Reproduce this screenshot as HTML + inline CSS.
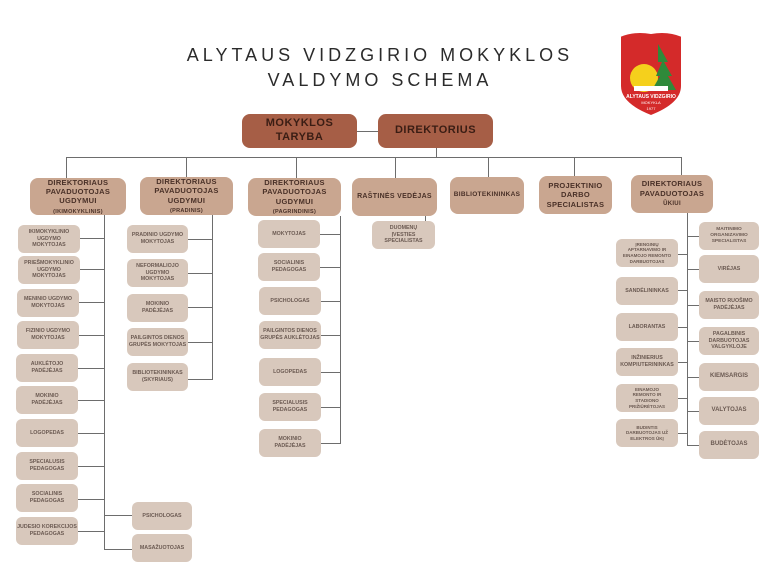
<!DOCTYPE html>
<html><head><meta charset="utf-8"><style>
body{margin:0;width:768px;height:576px;background:#fff;position:relative;overflow:hidden;font-family:"Liberation Sans",sans-serif}
div{position:absolute;box-sizing:border-box}
p{margin:0}
.t{left:0;width:768px;text-align:center;font-size:18px;letter-spacing:4px;color:#2b2b2b;padding-right:8px}
.b{display:flex;align-items:center;justify-content:center;text-align:center;font-weight:bold;line-height:1.25}
.d{background:#a65e46;color:#3a1d14;border-radius:8px;font-size:11px;letter-spacing:.5px}
.m{background:#c9a690;color:#4a3128;border-radius:8px;font-size:7.5px;letter-spacing:.3px}
.s{background:#d8c8bc;color:#6b5a52;border-radius:6px;font-size:5.3px;width:62px;height:28px}
.h{height:1px;background:#6d6d6d}
.v{width:1px;background:#6d6d6d}
</style></head><body>
<div class="t" style="top:45px">ALYTAUS VIDZGIRIO MOKYKLOS</div>
<div class="t" style="top:70px">VALDYMO SCHEMA</div>
<svg style="position:absolute;left:616px;top:30px" width="70" height="88" viewBox="0 0 70 88">
<path d="M4 6 Q18 0 35 3 Q52 0 66 6 L66 56 Q66 74 35 86 Q4 74 4 56Z" fill="#d42a2a" stroke="#fff" stroke-width="2"/>
<circle cx="28" cy="48" r="14" fill="#f5d01c"/>
<path d="M42 14 L52 32 L48 32 L56 46 L52 46 L60 60 L36 60 L44 46 L40 46 L46 32 L42 32Z" fill="#2f8a3a"/>
<rect x="18" y="56" width="34" height="5" fill="#fff"/>
<text x="35" y="68" font-size="5" fill="#fff" text-anchor="middle" font-family="Liberation Sans" font-weight="bold">ALYTAUS VIDZGIRIO</text>
<text x="35" y="74" font-size="4" fill="#fff" text-anchor="middle" font-family="Liberation Sans">MOKYKLA</text>
<text x="35" y="80" font-size="4" fill="#fff" text-anchor="middle" font-family="Liberation Sans">1977</text>
</svg>

<div class="b d" style="left:242px;top:114px;width:115px;height:34px"><p>MOKYKLOS<br>TARYBA</p></div>
<div class="b d" style="left:378px;top:114px;width:115px;height:34px">DIREKTORIUS</div>
<div class="h" style="left:357px;top:131px;width:21px"></div>
<div class="v" style="left:436px;top:148px;height:9px"></div>
<div class="h" style="left:66px;top:157px;width:616px"></div>
<div class="v" style="left:66px;top:157px;height:21px"></div>
<div class="v" style="left:186px;top:157px;height:20px"></div>
<div class="v" style="left:296px;top:157px;height:21px"></div>
<div class="v" style="left:395px;top:157px;height:21px"></div>
<div class="v" style="left:488px;top:157px;height:20px"></div>
<div class="v" style="left:574px;top:157px;height:19px"></div>
<div class="v" style="left:681px;top:157px;height:18px"></div>

<div class="b m" style="left:30px;top:178px;width:96px;height:37px"><p>DIREKTORIAUS<br>PAVADUOTOJAS<br>UGDYMUI<br><span style="font-size:5.5px">(IKIMOKYKLINIS)</span></p></div>
<div class="b m" style="left:140px;top:177px;width:93px;height:38px"><p>DIREKTORIAUS<br>PAVADUOTOJAS<br>UGDYMUI<br><span style="font-size:5.5px">(PRADINIS)</span></p></div>
<div class="b m" style="left:248px;top:178px;width:93px;height:38px"><p>DIREKTORIAUS<br>PAVADUOTOJAS<br>UGDYMUI<br><span style="font-size:5.5px">(PAGRINDINIS)</span></p></div>
<div class="b m" style="left:352px;top:178px;width:85px;height:38px;font-size:7px">RAŠTINĖS VEDĖJAS</div>
<div class="b m" style="left:450px;top:177px;width:74px;height:37px;font-size:6.5px">BIBLIOTEKININKAS</div>
<div class="b m" style="left:539px;top:176px;width:73px;height:38px"><p>PROJEKTINIO<br>DARBO<br>SPECIALISTAS</p></div>
<div class="b m" style="left:631px;top:175px;width:82px;height:38px"><p>DIREKTORIAUS<br>PAVADUOTOJAS<br><span style="font-size:6px">ŪKIUI</span></p></div>

<!-- col1 -->
<div class="v" style="left:104px;top:215px;height:335px"></div>
<div class="b s" style="left:18px;top:225px"><p>IKIMOKYKLINIO<br>UGDYMO<br>MOKYTOJAS</p></div><div class="h" style="left:80px;top:238px;width:24px"></div>
<div class="b s" style="left:18px;top:256px"><p>PRIEŠMOKYKLINIO<br>UGDYMO<br>MOKYTOJAS</p></div><div class="h" style="left:80px;top:269px;width:24px"></div>
<div class="b s" style="left:17px;top:289px"><p>MENINIO UGDYMO<br>MOKYTOJAS</p></div><div class="h" style="left:79px;top:302px;width:25px"></div>
<div class="b s" style="left:17px;top:321px"><p>FIZINIO UGDYMO<br>MOKYTOJAS</p></div><div class="h" style="left:79px;top:335px;width:25px"></div>
<div class="b s" style="left:16px;top:354px"><p>AUKLĖTOJO<br>PADĖJĖJAS</p></div><div class="h" style="left:78px;top:368px;width:26px"></div>
<div class="b s" style="left:16px;top:386px"><p>MOKINIO<br>PADĖJĖJAS</p></div><div class="h" style="left:78px;top:400px;width:26px"></div>
<div class="b s" style="left:16px;top:419px">LOGOPEDAS</div><div class="h" style="left:78px;top:433px;width:26px"></div>
<div class="b s" style="left:16px;top:452px"><p>SPECIALUSIS<br>PEDAGOGAS</p></div><div class="h" style="left:78px;top:466px;width:26px"></div>
<div class="b s" style="left:16px;top:484px"><p>SOCIALINIS<br>PEDAGOGAS</p></div><div class="h" style="left:78px;top:499px;width:26px"></div>
<div class="b s" style="left:16px;top:517px"><p>JUDESIO KOREKCIJOS<br>PEDAGOGAS</p></div><div class="h" style="left:78px;top:531px;width:26px"></div>
<div class="b s" style="left:132px;top:502px;width:60px">PSICHOLOGAS</div><div class="h" style="left:104px;top:515px;width:28px"></div>
<div class="b s" style="left:132px;top:534px;width:60px">MASAŽUOTOJAS</div><div class="h" style="left:104px;top:549px;width:28px"></div>

<!-- col2 -->
<div class="v" style="left:212px;top:215px;height:165px"></div>
<div class="b s" style="left:127px;top:225px;width:61px"><p>PRADINIO UGDYMO<br>MOKYTOJAS</p></div><div class="h" style="left:188px;top:239px;width:24px"></div>
<div class="b s" style="left:127px;top:259px;width:61px"><p>NEFORMALIOJO<br>UGDYMO<br>MOKYTOJAS</p></div><div class="h" style="left:188px;top:273px;width:24px"></div>
<div class="b s" style="left:127px;top:294px;width:61px"><p>MOKINIO<br>PADĖJĖJAS</p></div><div class="h" style="left:188px;top:307px;width:24px"></div>
<div class="b s" style="left:127px;top:328px;width:61px"><p>PAILGINTOS DIENOS<br>GRUPĖS MOKYTOJAS</p></div><div class="h" style="left:188px;top:342px;width:24px"></div>
<div class="b s" style="left:127px;top:363px;width:61px"><p>BIBLIOTEKININKAS<br>(SKYRIAUS)</p></div><div class="h" style="left:188px;top:379px;width:24px"></div>

<!-- col3 -->
<div class="v" style="left:340px;top:216px;height:228px"></div>
<div class="b s" style="left:258px;top:220px">MOKYTOJAS</div><div class="h" style="left:320px;top:234px;width:20px"></div>
<div class="b s" style="left:258px;top:253px"><p>SOCIALINIS<br>PEDAGOGAS</p></div><div class="h" style="left:320px;top:267px;width:20px"></div>
<div class="b s" style="left:259px;top:287px">PSICHOLOGAS</div><div class="h" style="left:321px;top:301px;width:19px"></div>
<div class="b s" style="left:259px;top:321px"><p>PAILGINTOS DIENOS<br>GRUPĖS AUKLĖTOJAS</p></div><div class="h" style="left:321px;top:335px;width:19px"></div>
<div class="b s" style="left:259px;top:358px">LOGOPEDAS</div><div class="h" style="left:321px;top:372px;width:19px"></div>
<div class="b s" style="left:259px;top:393px"><p>SPECIALUSIS<br>PEDAGOGAS</p></div><div class="h" style="left:321px;top:407px;width:19px"></div>
<div class="b s" style="left:259px;top:429px"><p>MOKINIO<br>PADĖJĖJAS</p></div><div class="h" style="left:321px;top:443px;width:19px"></div>

<!-- rastine -->
<div class="v" style="left:425px;top:216px;height:5px"></div>
<div class="b s" style="left:372px;top:221px;width:63px"><p>DUOMENŲ<br>ĮVESTIES<br>SPECIALISTAS</p></div>

<!-- col7 -->
<div class="v" style="left:687px;top:213px;height:233px"></div>
<div class="b s" style="left:616px;top:239px;font-size:4.5px"><p>ĮRENGINIŲ<br>APTARNAVIMO IR<br>EINAMOJO REMONTO<br>DARBUOTOJAS</p></div><div class="h" style="left:678px;top:254px;width:9px"></div>
<div class="b s" style="left:616px;top:277px">SANDĖLININKAS</div><div class="h" style="left:678px;top:290px;width:9px"></div>
<div class="b s" style="left:616px;top:313px">LABORANTAS</div><div class="h" style="left:678px;top:327px;width:9px"></div>
<div class="b s" style="left:616px;top:348px"><p>INŽINIERIUS<br>KOMPIUTERININKAS</p></div><div class="h" style="left:678px;top:362px;width:9px"></div>
<div class="b s" style="left:616px;top:384px;font-size:4.5px"><p>EINAMOJO<br>REMONTO IR<br>STADIONO<br>PRIŽIŪRĖTOJAS</p></div><div class="h" style="left:678px;top:398px;width:9px"></div>
<div class="b s" style="left:616px;top:419px;font-size:4.5px"><p>BUDINTIS<br>DARBUOTOJAS UŽ<br>ELEKTROS ŪKĮ</p></div><div class="h" style="left:678px;top:433px;width:9px"></div>
<div class="b s" style="left:699px;top:222px;width:60px;font-size:4.8px"><p>MAITINIMO<br>ORGANIZAVIMO<br>SPECIALISTAS</p></div><div class="h" style="left:687px;top:236px;width:12px"></div>
<div class="b s" style="left:699px;top:255px;width:60px">VIRĖJAS</div><div class="h" style="left:687px;top:269px;width:12px"></div>
<div class="b s" style="left:699px;top:291px;width:60px"><p>MAISTO RUOŠIMO<br>PADĖJĖJAS</p></div><div class="h" style="left:687px;top:305px;width:12px"></div>
<div class="b s" style="left:699px;top:327px;width:60px"><p>PAGALBINIS<br>DARBUOTOJAS<br>VALGYKLOJE</p></div><div class="h" style="left:687px;top:341px;width:12px"></div>
<div class="b s" style="left:699px;top:363px;width:60px;font-size:6px">KIEMSARGIS</div><div class="h" style="left:687px;top:377px;width:12px"></div>
<div class="b s" style="left:699px;top:397px;width:60px;font-size:6px">VALYTOJAS</div><div class="h" style="left:687px;top:411px;width:12px"></div>
<div class="b s" style="left:699px;top:431px;width:60px;font-size:6px">BUDĖTOJAS</div><div class="h" style="left:687px;top:445px;width:12px"></div>
</body></html>
